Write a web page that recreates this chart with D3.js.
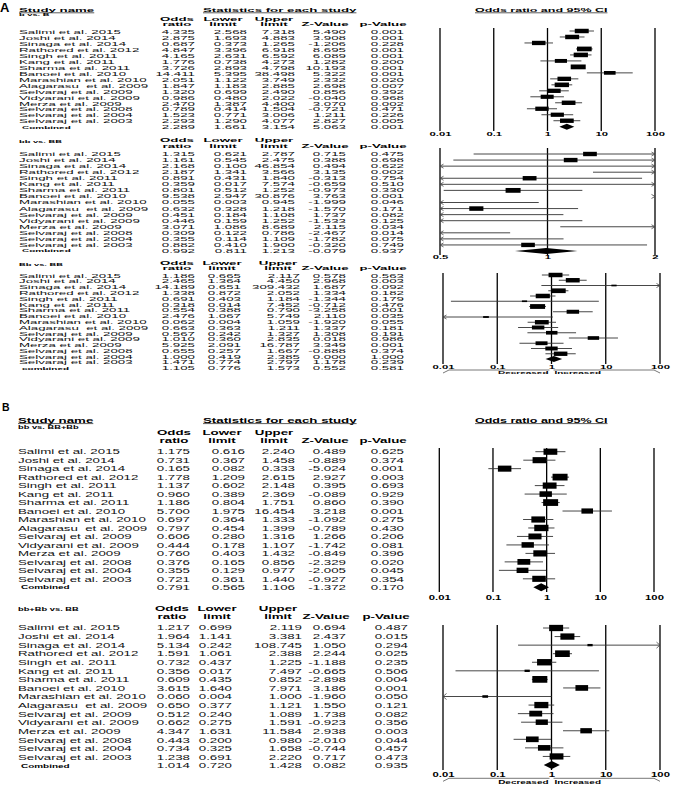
<!DOCTYPE html>
<html><head><meta charset="utf-8">
<script src="https://cdn.jsdelivr.net/npm/d3@7"></script>
<style>
html,body{margin:0;padding:0;background:#fff;}
svg{display:block;font-family:"Liberation Sans",Arial,sans-serif;}
text{white-space:pre;}
</style></head><body><svg id="c" width="674" height="786"></svg>
<script>
// ---------------- DATA ----------------
const studies = ["Salimi et al. 2015","Joshi et al. 2014","Sinaga et al. 2014","Rathored et al. 2012","Singh et al. 2011","Kang et al. 2011","Sharma et al. 2011","Banoei et al. 2010","Marashian et al. 2010","Alagarasu  et al. 2009","Selvaraj et al. 2009","Vidyarani et al. 2009","Merza et al. 2009","Selvaraj et al. 2008","Selvaraj et al. 2004","Selvaraj et al. 2003"];
const comparisons = ["b vs. B","bb vs. BB","Bb vs. BB","bb vs. BB+Bb","bb+Bb vs. BB"];
const combinedLabels = ["Combined","Combined","combined","Combined","Combined"];

// b vs. B
const orA1 = [4.335,2.875,0.687,4.847,4.165,1.776,3.726,14.411,2.051,1.847,1.320,0.986,2.470,0.789,1.523,2.293];
const loA1 = [2.568,1.693,0.373,3.396,2.631,0.738,2.893,5.395,1.122,1.183,0.699,0.480,1.387,0.414,0.771,1.290];
const hiA1 = [7.318,4.883,1.265,6.918,6.592,4.273,4.798,38.498,3.749,2.885,2.490,2.022,4.400,1.504,3.006,4.077];
const zA1  = [5.490,3.908,-1.206,8.695,6.089,1.282,10.193,5.322,2.332,2.698,0.856,-0.040,3.070,-0.721,1.211,2.827];
const pA1  = [0.001,0.001,0.228,0.001,0.001,0.200,0.001,0.001,0.020,0.007,0.392,0.968,0.002,0.471,0.226,0.005];
// bb vs. BB
const orA2 = [1.315,1.161,2.168,2.187,0.891,0.359,0.801,9.538,0.055,0.632,0.451,0.446,3.071,0.309,0.355,0.882];
const loA2 = [0.621,0.545,0.100,1.341,0.431,0.017,0.512,2.947,0.003,0.328,0.184,0.159,1.086,0.122,0.114,0.410];
const hiA2 = [2.787,2.475,46.854,3.566,1.840,7.574,1.252,30.876,0.945,1.218,1.108,1.252,8.689,0.786,1.109,1.900];
const zA2  = [0.715,0.388,0.494,3.135,-0.313,-0.659,-0.973,3.763,-1.999,-1.570,1.737,-1.533,2.115,-2.467,-1.782,-0.320];
const pA2  = [0.475,0.698,0.622,0.002,0.754,0.510,0.330,0.001,0.046,0.171,0.082,0.125,0.034,0.014,0.075,0.749];
// Bb vs. BB
const orA3 = [1.186,2.465,14.189,1.338,0.691,0.318,0.554,2.476,0.062,0.663,0.567,1.010,5.925,0.655,1.000,1.471];
const loA3 = [0.665,1.364,0.651,0.872,0.403,0.014,0.388,1.067,0.004,0.363,0.242,0.360,2.091,0.257,0.419,0.774];
const hiA3 = [2.117,4.450,309.432,2.052,1.184,7.452,0.790,5.749,1.059,1.211,1.327,2.835,16.787,1.667,2.385,2.797];
const zA3  = [0.578,2.968,1.687,1.334,-1.344,-0.712,-3.258,2.110,-1.920,1.337,1.308,0.018,3.349,-0.888,0.000,1.178];
const pA3  = [0.563,0.003,0.092,0.182,0.179,0.476,0.001,0.035,0.055,0.181,0.191,0.986,0.001,0.374,1.000,0.239];
// bb vs. BB+Bb
const orB1 = [1.175,0.731,0.165,1.778,1.137,0.960,1.186,5.700,0.697,0.797,0.606,0.444,0.760,0.376,0.355,0.721];
const loB1 = [0.616,0.367,0.082,1.209,0.602,0.389,0.804,1.975,0.364,0.454,0.280,0.178,0.403,0.165,0.129,0.361];
const hiB1 = [2.240,1.458,0.333,2.615,2.148,2.369,1.751,16.454,1.333,1.399,1.316,1.107,1.432,0.856,0.977,1.440];
const zB1  = [0.489,-0.889,-5.024,2.927,0.395,-0.089,0.860,3.218,-1.092,-0.789,1.266,-1.742,-0.849,-2.329,-2.005,-0.927];
const pB1  = [0.625,0.374,0.001,0.003,0.693,0.929,0.390,0.001,0.275,0.430,0.206,0.081,0.396,0.020,0.045,0.354];
// bb+Bb vs. BB
const orB2 = [1.217,1.964,5.134,1.591,0.732,0.356,0.609,3.615,0.060,0.650,0.512,0.662,4.347,0.443,0.734,1.238];
const loB2 = [0.699,1.141,0.242,1.061,0.437,0.017,0.435,1.640,0.004,0.377,0.240,0.275,1.631,0.200,0.325,0.691];
const hiB2 = [2.119,3.381,108.745,2.388,1.225,7.497,0.852,7.971,1.000,1.121,1.089,1.591,11.584,0.980,1.658,2.220];
const zB2  = [0.694,2.437,1.050,2.244,-1.188,-0.665,-2.898,3.186,-1.960,1.550,1.738,-0.923,2.938,-2.010,-0.744,0.717];
const pB2  = [0.487,0.015,0.294,0.025,0.235,0.506,0.004,0.001,0.050,0.121,0.082,0.356,0.003,0.044,0.457,0.473];

const combinedOR = [2.289,0.992,1.105,0.791,1.014];
const combinedLo = [1.661,0.811,0.776,0.565,0.720];
const combinedHi = [3.154,1.213,1.573,1.106,1.428];
const combinedZ  = [5.063,-0.079,0.552,-1.372,0.082];
const combinedP  = [0.001,0.937,0.581,0.170,0.935];

const ticksWide = [0.01,0.1,1,10,100];
const ticksNarrow = [0.5,1,2];
const colHeadTop = ["Odds","Lower","Upper","",""];
const colHeadBottom = ["ratio","limit","limit","Z-Value","p-Value"];
const sectionTitles = ["Study name","Statistics for each study","Odds ratio and 95% CI"];
const panelLetters = ["A","B"];
const effectLabels = ["Decreased","Increased"];

// ---------------- LAYOUT ----------------
const SX = 1.33;
const data = [
  {or:orA1,lo:loA1,hi:hiA1,z:zA1,p:pA1},
  {or:orA2,lo:loA2,hi:hiA2,z:zA2,p:pA2},
  {or:orA3,lo:loA3,hi:hiA3,z:zA3,p:pA3},
  {or:orB1,lo:loB1,hi:hiB1,z:zB1,p:pB1},
  {or:orB2,lo:loB2,hi:hiB2,z:zB2,p:pB2}
];
const panels = [
  {sy:0.55, asp:0.32, dh:3, ah:2, nameX:19, subY:15, headY:[19,24], headCx:[177,223,274,325,383], colR:[195,247,295,346,404],
   rows:[32.3,127.3], x0:440, x1:655, domain:[0.01,100], ticks:ticksWide, top:28, bottom:131, lab:134, plotRows:[31,126.7]},
  {sy:0.55, asp:0.32, dh:3, ah:2, nameX:19, subY:141.7, headY:[140,145.7], headCx:[177,223,274,325,383], colR:[195,247,295,346,404],
   rows:[154,251], x0:440, x1:655, domain:[0.5,2], ticks:ticksNarrow, top:148, bottom:255, lab:257.5, plotRows:[154,251]},
  {sy:0.55, asp:0.32, dh:3, ah:2, nameX:19, subY:265, headY:[263,268], headCx:[177,222,278,325,383], colR:[195,241,300,346,404],
   rows:[275.7,368.3], x0:443, x1:660, domain:[0.01,100], ticks:ticksWide, top:273, bottom:364, lab:367, plotRows:[275,359],
   effY:373, brY:370},
  {sy:0.78, asp:0.45, dh:4, ah:3, nameX:18, subY:427.3, headY:[432.7,440], headCx:[174,222,274,325,383], colR:[190,245,295,346,404],
   rows:[451.7,587.3], x0:439.3, x1:654, domain:[0.01,100], ticks:ticksWide, top:448, bottom:592, lab:598, plotRows:[451.7,587.3]},
  {sy:0.78, asp:0.45, dh:4, ah:3, nameX:18, subY:609, headY:[608.3,616], headCx:[172,217,278,326,386], colR:[190,232,302,346,408],
   rows:[627.7,765.7], x0:443, x1:660, domain:[0.01,100], ticks:ticksWide, top:625, bottom:770, lab:775, plotRows:[628,765],
   effY:782.3, brY:778.3}
];
const sections = [
  {letter:0, lx:0, ly:12, lsize:13, y:10, ul:12.8, sy:0.55, xs:[19,203,475], sizes:[10,10,9.4]},
  {letter:1, lx:2, ly:411, lsize:10.5, y:420.7, ul:423.6, sy:0.78, xs:[18,203,475], sizes:[10,10,9.4]}
];

// ---------------- DRAW ----------------
const svg = d3.select("#c");
svg.append("rect").attr("width",674).attr("height",786).attr("fill","#fff");

function T(g, x, cy, s, o={}) {
  const size = o.size||10, sy = o.sy||0.78;
  const base = cy + size*0.716*sy/2;
  return g.append("text")
    .attr("transform",`translate(${x},${base}) scale(${SX},${sy})`)
    .attr("text-anchor",o.anchor||"start")
    .attr("font-size",size)
    .attr("font-weight",o.bold?"bold":"normal")
    .attr("fill",o.fill||"#111")
    .text(s);
}

sections.forEach(S => {
  svg.append("text").attr("x",S.lx).attr("y",S.ly).attr("font-size",S.lsize)
     .attr("font-weight","bold").attr("fill","#000").text(panelLetters[S.letter]);
  sectionTitles.forEach((t,i) => {
    const el = T(svg, S.xs[i], S.y, t, {size:S.sizes[i], bold:true, sy:S.sy, fill:"#000"});
    const w = el.node().getComputedTextLength()*SX;
    svg.append("line").attr("x1",S.xs[i]).attr("x2",S.xs[i]+w).attr("y1",S.ul).attr("y2",S.ul)
       .attr("stroke","#333").attr("stroke-width",0.8);
  });
});

const f3 = v => v.toFixed(3);

panels.forEach((P,k) => {
  const g = svg.append("g");
  const D = data[k];
  const n = studies.length;
  const sy = P.sy;
  const ry = d3.scaleLinear().domain([0,n]).range(P.rows);

  T(g, P.nameX, P.subY, comparisons[k], {size:7, bold:true, sy, fill:"#000"});
  P.headCx.forEach((cx,i) => {
    if (colHeadTop[i]) T(g, cx, P.headY[0], colHeadTop[i], {size:10, bold:true, anchor:"middle", sy, fill:"#000"});
    T(g, cx, P.headY[1], colHeadBottom[i], {size:10, bold:true, anchor:"middle", sy, fill:"#000"});
  });

  studies.forEach((s,i) => {
    T(g, P.nameX, ry(i), s, {sy});
    [D.or[i],D.lo[i],D.hi[i],D.z[i],D.p[i]].forEach((v,j) => T(g, P.colR[j], ry(i), f3(v), {anchor:"end", sy}));
  });
  T(g, P.nameX+3, ry(n), combinedLabels[k], {size:7.5, bold:true, sy, fill:"#000"});
  [combinedOR[k],combinedLo[k],combinedHi[k],combinedZ[k],combinedP[k]].forEach((v,j) =>
    T(g, P.colR[j], ry(n), f3(v), {anchor:"end", sy}));

  // ----- forest plot -----
  const x = d3.scaleLog().domain(P.domain).range([P.x0,P.x1]);
  const py = d3.scaleLinear().domain([0,n]).range(P.plotRows);
  const [dmin,dmax] = P.domain;

  P.ticks.forEach(t => g.append("line").attr("x1",x(t)).attr("x2",x(t))
     .attr("y1",P.top).attr("y2",P.bottom).attr("stroke","#000").attr("stroke-width",1.3));

  const ax = g.append("g").attr("transform",`translate(0,${P.lab})`)
    .call(d3.axisBottom(x).tickValues(P.ticks).tickFormat(d => String(d)).tickSize(0));
  ax.select(".domain").remove();
  ax.attr("font-family",null);
  ax.selectAll("text").attr("y",null).attr("dy",null)
    .attr("transform",`translate(0,${8.5*0.716*sy/2}) scale(${SX},${sy})`)
    .attr("font-size",8.5).attr("font-weight","bold").attr("fill","#000")
    .attr("font-family",'"Liberation Sans",Arial,sans-serif');

  // weights (random effects, DerSimonian-Laird) for box sizes
  const yi = D.or.map(Math.log);
  const vi = D.lo.map((l,i) => ((Math.log(D.hi[i])-Math.log(l))/3.92)**2);
  const wi = vi.map(v => 1/v);
  const sw = d3.sum(wi), sw2 = d3.sum(wi, w => w*w);
  const ybar = d3.sum(wi.map((w,i) => w*yi[i]))/sw;
  const Q = d3.sum(wi.map((w,i) => w*(yi[i]-ybar)**2));
  const tau2 = Math.max(0,(Q-(n-1))/(sw - sw2/sw));
  const ws = vi.map(v => 1/(v+tau2));
  const bw = d3.scaleSqrt().domain([0,d3.max(ws)]).range([0,15]);

  const arrow = (xe, y, dir) => g.append("path")
    .attr("d",`M${xe-dir*3.5},${y-P.ah}L${xe},${y}L${xe-dir*3.5},${y+P.ah}`)
    .attr("fill","none").attr("stroke","#444").attr("stroke-width",0.8);

  studies.forEach((s,i) => {
    const y = py(i), lo = D.lo[i], hi = D.hi[i], o = D.or[i];
    if (lo >= dmax) arrow(x(dmax), y, 1);
    else if (hi <= dmin) arrow(x(dmin), y, -1);
    else {
      const a = Math.max(lo,dmin), b = Math.min(hi,dmax);
      g.append("line").attr("x1",x(a)).attr("x2",x(b)).attr("y1",y).attr("y2",y)
        .attr("stroke","#333").attr("stroke-width",0.9);
      if (lo < dmin) arrow(x(dmin), y, -1);
      if (hi > dmax) arrow(x(dmax), y, 1);
    }
    if (o >= dmin && o <= dmax) {
      const w = Math.max(4, bw(ws[i])), h = w*P.asp;
      g.append("rect").attr("x",x(o)-w/2).attr("y",y-h/2).attr("width",w).attr("height",h).attr("fill","#000");
    }
  });
  const yc = py(n);
  g.append("path")
    .attr("d",`M${x(combinedLo[k])},${yc}L${x(combinedOR[k])},${yc-P.dh}L${x(combinedHi[k])},${yc}L${x(combinedOR[k])},${yc+P.dh}Z`)
    .attr("fill","#000");

  if (P.effY) {
    const xm = x(1), xa = x(dmin), xb = x(dmax);
    g.append("path").attr("d",`M${xm-2},${P.brY}L${xa+6},${P.brY}L${xa},${P.brY+3}`)
      .attr("fill","none").attr("stroke","#555").attr("stroke-width",0.8);
    g.append("path").attr("d",`M${xm+2},${P.brY}L${xb-6},${P.brY}L${xb},${P.brY+3}`)
      .attr("fill","none").attr("stroke","#555").attr("stroke-width",0.8);
    T(g, xm-3, P.effY, effectLabels[0], {size:7.5, bold:true, anchor:"end", sy, fill:"#000"});
    T(g, xm+3, P.effY, effectLabels[1], {size:7.5, bold:true, anchor:"start", sy, fill:"#000"});
  }
});
</script></body></html>
